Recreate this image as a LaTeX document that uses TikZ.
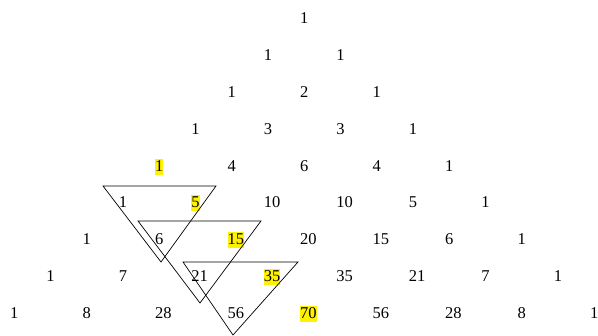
\documentclass[tikz,border=0pt]{standalone}
\usepackage{fontspec}
\setmainfont{Liberation Serif}
\usepackage{xcolor}
\usetikzlibrary{calc}
\tikzset{
  num/.style = {anchor=base west, inner sep=0pt, text height=12.5pt,
    text depth=3.5pt, font=\fontsize{16.5}{19}\selectfont},
  hock/.style = {draw=black, line width=0.7pt, line join=miter}
}
\begin{document}
\begin{tikzpicture}[x=1pt,y=-1pt]
  \useasboundingbox (0,0) rectangle (598,336);
  % rows of the triangle
  \foreach \row [count=\n from 0] in {{1},{1,1},{1,2,1},{1,3,3,1},{1,4,6,4,1},
      {1,5,10,10,5,1},{1,6,15,20,15,6,1},{1,7,21,35,35,21,7,1},
      {1,8,28,56,70,56,28,8,1}}{
    \foreach \v [count=\k from 0] in \row {
      \pgfmathsetmacro\cx{304+(\k-\n/2)*72.5-4}
      \pgfmathsetmacro\cy{18+36.9*\n+5.5}
      \pgfmathtruncatemacro\hl{(\n>3)&&(\k==\n-4)}
      \ifnum\hl=1 \def\fc{yellow}\else\def\fc{none}\fi
      \node[num, fill=\fc] (p\n-\k) at (\cx,\cy) {\v};
    }
  }
  % the three sums
  \draw[hock] (103,186) -- (216,186) -- (161,262) -- cycle;
  \draw[hock] (138,221) -- (261,221) -- (200,303) -- cycle;
  \draw[hock] (183,262) -- (298,262) -- (233,335) -- cycle;
\end{tikzpicture}
\end{document}
